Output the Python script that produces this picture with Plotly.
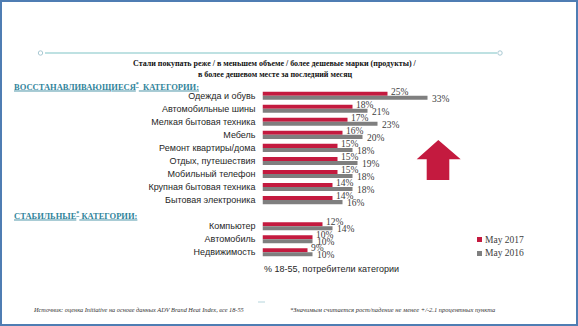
import plotly.graph_objects as go

# Share of 18-55 category consumers who bought less often / less / cheaper
restoring_categories = [
    "Одежда и обувь", "Автомобильные шины", "Мелкая бытовая техника", "Мебель",
    "Ремонт квартиры/дома", "Отдых, путешествия", "Мобильный телефон",
    "Крупная бытовая техника", "Бытовая электроника",
]
restoring_2017 = [25, 18, 17, 16, 15, 15, 15, 14, 14]
restoring_2016 = [33, 21, 23, 20, 18, 19, 18, 18, 16]

stable_categories = ["Компьютер", "Автомобиль", "Недвижимость"]
stable_2017 = [12, 10, 9]
stable_2016 = [14, 10, 10]

series_names = ["May 2017", "May 2016"]

RED = "#c41a3f"
GRAY = "#7f7f7f"
TEAL = "#31849b"
W, H = 578, 326


def px(x):
    return x / W


def py(y):
    return 1 - y / H


# row positions: restoring rows, one empty slot, then stable rows
n_r = len(restoring_categories)
pos = list(range(n_r)) + [n_r + 1 + i for i in range(len(stable_categories))]
cats = restoring_categories + stable_categories
v2017 = restoring_2017 + stable_2017
v2016 = restoring_2016 + stable_2016

BW = 0.31
fig = go.Figure()
fig.add_trace(go.Bar(y=pos, x=v2017, orientation="h", name=series_names[0],
                     marker=dict(color=RED, line=dict(width=0)),
                     width=BW, offset=-BW, showlegend=False))
fig.add_trace(go.Bar(y=pos, x=v2016, orientation="h", name=series_names[1],
                     marker=dict(color=GRAY, line=dict(width=0)),
                     width=BW, offset=0, showlegend=False))

ann = []
serif = "Liberation Serif"
sans = "Liberation Sans"
for p, a, b in zip(pos, v2017, v2016):
    ann.append(dict(x=a, y=p - BW / 2, xref="x", yref="y", text=f"{a}%",
                    showarrow=False, xanchor="left", yanchor="middle",
                    xshift=1, yshift=2,
                    font=dict(family=serif, size=9.5, color="#404040")))
    ann.append(dict(x=b, y=p + BW / 2, xref="x", yref="y", text=f"{b}%",
                    showarrow=False, xanchor="left", yanchor="middle",
                    xshift=2, yshift=-1,
                    font=dict(family=serif, size=9.5, color="#404040")))

# title
ann.append(dict(x=px(275), y=py(63), xref="paper", yref="paper",
                text="<b>Стали покупать реже / в меньшем объеме / более дешевые марки (продукты) /</b>",
                showarrow=False, xanchor="center", yanchor="middle",
                font=dict(family=serif, size=8, color="#111111")))
ann.append(dict(x=px(275), y=py(74.5), xref="paper", yref="paper",
                text="<b>в более дешевом месте за последний месяц</b>",
                showarrow=False, xanchor="center", yanchor="middle",
                font=dict(family=serif, size=8, color="#111111")))

# section headers
ann.append(dict(x=px(12), y=py(86), xref="paper", yref="paper",
                text="<b><u>ВОССТАНАВЛИВАЮЩИЕСЯ<sup>*</sup>  КАТЕГОРИИ:</u></b>",
                showarrow=False, xanchor="left", yanchor="middle",
                font=dict(family=serif, size=8.5, color=TEAL)))
ann.append(dict(x=px(12), y=py(215.5), xref="paper", yref="paper",
                text="<b><u>СТАБИЛЬНЫЕ<sup>*</sup> КАТЕГОРИИ:</u></b>",
                showarrow=False, xanchor="left", yanchor="middle",
                font=dict(family=serif, size=8.5, color=TEAL)))

# base note under the bars
ann.append(dict(x=px(262), y=py(269), xref="paper", yref="paper",
                text="% 18-55, потребители категории",
                showarrow=False, xanchor="left", yanchor="middle",
                font=dict(family=sans, size=9, color="#262626")))

# legend
for i, (name, col) in enumerate(zip(series_names, [RED, GRAY])):
    ann.append(dict(x=px(483), y=py(239.5 + 14 * i), xref="paper", yref="paper",
                    text=name, showarrow=False, xanchor="left", yanchor="middle",
                    font=dict(family=serif, size=9.5, color="#404040")))

# footers
ann.append(dict(x=px(31), y=py(309), xref="paper", yref="paper",
                text="<i>Источник: оценка Initiative на основе данных ADV Brand Heat Index, все 18-55</i>",
                showarrow=False, xanchor="left", yanchor="middle",
                font=dict(family=serif, size=6.3, color="#333333")))
ann.append(dict(x=px(497), y=py(309.5), xref="paper", yref="paper",
                text="<i>*Значимым считается рост/падение не менее +/-2.1 процентных пункта</i>",
                showarrow=False, xanchor="right", yanchor="middle",
                font=dict(family=serif, size=6.5, color="#333333")))

shapes = []
# slide frame
shapes.append(dict(type="rect", xref="paper", yref="paper",
                   x0=px(1), x1=px(577), y0=py(325), y1=py(1),
                   line=dict(color="#4f7db3", width=2)))
# decorative rule with end rings
shapes.append(dict(type="line", xref="paper", yref="paper",
                   x0=px(45), x1=px(497), y0=py(53), y1=py(53),
                   line=dict(color="#a9d7d9", width=1.5)))
for cx in (40.5, 500):
    shapes.append(dict(type="circle", xref="paper", yref="paper",
                       x0=px(cx - 2.2), x1=px(cx + 2.2), y0=py(53 + 2.2), y1=py(53 - 2.2),
                       line=dict(color="#a9c9d3", width=1)))
# small dash near footer
shapes.append(dict(type="line", xref="paper", yref="paper",
                   x0=px(258), x1=px(265), y0=py(302), y1=py(302),
                   line=dict(color="#b5d5dc", width=1)))
# up arrow
pts = [(438.3, 140), (460.7, 159.3), (449.3, 159.3), (449.3, 180),
       (426.7, 180), (426.7, 159.3), (416.7, 159.3)]
path = "M " + " L ".join(f"{px(x):.5f},{py(y):.5f}" for x, y in pts) + " Z"
shapes.append(dict(type="path", xref="paper", yref="paper", path=path,
                   fillcolor=RED, line=dict(width=0)))
# legend swatches
for i, col in enumerate([RED, GRAY]):
    cy = 239.5 + 14 * i
    shapes.append(dict(type="rect", xref="paper", yref="paper",
                       x0=px(477), x1=px(482), y0=py(cy + 2.5), y1=py(cy - 2.5),
                       fillcolor=col, line=dict(width=0)))

fig.update_layout(
    width=W, height=H,
    margin=dict(l=0, r=0, t=0, b=0),
    paper_bgcolor="white", plot_bgcolor="white",
    barmode="overlay",
    xaxis=dict(domain=[px(262.5), px(462.5)], range=[0, 40], visible=False,
               fixedrange=True),
    yaxis=dict(domain=[py(258.8), py(89.2)], range=[12.5, -0.5],
               tickvals=pos, ticktext=cats, showgrid=False, zeroline=False,
               showline=False, ticks="", ticklabelstandoff=6,
               tickfont=dict(family=sans, size=9, color="#262626")),
    annotations=ann,
    shapes=shapes,
    showlegend=False,
)

fig.write_html("out.html")
